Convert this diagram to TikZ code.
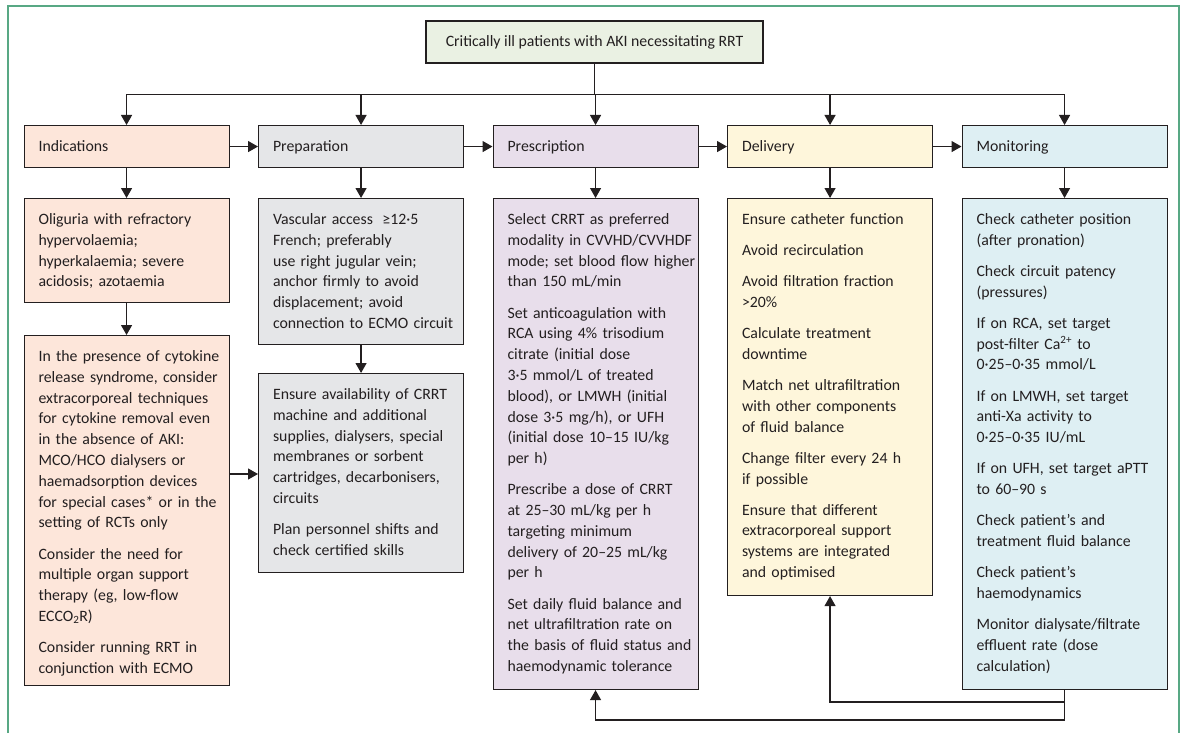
\documentclass[tikz,border=0pt]{standalone}
\usepackage{fontspec}
\setmainfont{Carlito}
\usetikzlibrary{arrows.meta}
\definecolor{cadre}{RGB}{88,168,132}
\definecolor{trait}{RGB}{35,31,32}
\definecolor{vertp}{RGB}{234,241,227}
\definecolor{peche}{RGB}{253,230,218}
\definecolor{grisp}{RGB}{229,230,232}
\definecolor{lilas}{RGB}{232,222,235}
\definecolor{creme}{RGB}{254,246,219}
\definecolor{bleup}{RGB}{222,239,243}
\begin{document}
\begin{tikzpicture}[x=1pt, y=-1pt,
                  every node/.style={font=\fontsize{15.8}{20.8}\selectfont, text=trait},
                  fleche/.style={-{Triangle[length=10pt,width=11pt]}, line width=1.2pt, draw=trait},
                  etape/.style={draw=trait, line width=1.1pt, anchor=north west, text width=190pt,
                                inner xsep=7.5pt, inner ysep=0pt, minimum height=42pt,
                                text height=12pt, text depth=3pt, align=left,
                                execute at begin node={\leftskip=7pt}},
                  bloc/.style={draw=trait, line width=1.1pt, anchor=north west, text width=190pt,
                               inner xsep=7.5pt, inner ysep=0pt, text height=26pt, align=left,
                               execute at begin node={\leftskip=7pt\rightskip=-9pt plus 1fil}}]
\useasboundingbox (0,0) rectangle (1182,733);
\draw[cadre, line width=1.5pt] (8,733) -- (8,6) -- (1179,6) -- (1179,733);
\node[draw=trait, line width=1.1pt, fill=vertp, minimum width=337pt, minimum height=42pt,
      inner sep=0pt, text height=12pt, text depth=3pt] (patients) at (594.5,42)
  {Critically ill patients with AKI necessitating RRT};
\foreach \i/\nom/\coul in {0/Indications/peche, 1/Preparation/grisp, 2/Prescription/lilas,
                           3/Delivery/creme, 4/Monitoring/bleup}
  \node[etape, fill=\coul] (e\i) at (23.5+234.5*\i, 125) {\nom};
% colonne 1
\node[bloc, fill=peche, text depth=78pt] (ind1) at (23.5,198)
  {Oliguria with refractory\\ hypervolaemia;\\ hyperkalaemia; severe\\ acidosis; azotaemia};
\node[bloc, fill=peche, text depth=324pt] (ind2) at (23.5,335)
  {In the presence of cytokine\\ release syndrome, consider\\ extracorporeal techniques\\
   for cytokine removal even\\ in the absence of AKI:\\ MCO/HCO dialysers or\\
   haemadsorption devices\\ for special cases* or in the\\ setting of RCTs only\\[10.3pt]
   Consider the need for\\ multiple organ support\\ therapy (eg, low-flow\\
   ECCO\textsubscript{2}R)\\[10.3pt]
   Consider running RRT in\\ conjunction with ECMO};
% colonne 2
\node[bloc, fill=grisp, text depth=120pt] (prep1) at (258,198)
  {Vascular access\hspace{0.6em}≥12·5\\ French; preferably\\ use right jugular vein;\\
   anchor firmly to avoid\\ displacement; avoid\\ connection to ECMO circuit};
\node[bloc, fill=grisp, text depth=173pt] (prep2) at (258,373)
  {Ensure availability of CRRT\\ machine and additional\\ supplies, dialysers, special\\
   membranes or sorbent\\ cartridges, decarbonisers,\\ circuits\\[10.3pt]
   Plan personnel shifts and\\ check certified skills};
% colonne 3
\node[bloc, fill=lilas, text depth=465pt] (presc) at (492.5,198)
  {Select CRRT as preferred\\ modality in CVVHD/CVVHDF\\ mode; set blood flow higher\\
   than 150 mL/min\\[10.3pt]
   Set anticoagulation with\\ RCA using 4\% trisodium\\ citrate (initial dose\\
   3·5 mmol/L of treated\\ blood), or LMWH (initial\\ dose 3·5 mg/h), or UFH\\
   (initial dose 10–15 IU/kg\\ per h)\\[10.3pt]
   Prescribe a dose of CRRT\\ at 25–30 mL/kg per h\\ targeting minimum\\
   delivery of 20–25 mL/kg\\ per h\\[10.3pt]
   Set daily fluid balance and\\ net ultrafiltration rate on\\ the basis of fluid status and\\
   haemodynamic tolerance};
% colonne 4
\node[bloc, fill=creme, text depth=371pt] (deliv) at (727,198)
  {Ensure catheter function\\[10.3pt]
   Avoid recirculation\\[10.3pt]
   Avoid filtration fraction\\ >20\%\\[10.3pt]
   Calculate treatment\\ downtime\\[10.3pt]
   Match net ultrafiltration\\ with other components\\ of fluid balance\\[10.3pt]
   Change filter every 24 h\\ if possible\\[10.3pt]
   Ensure that different\\ extracorporeal support\\ systems are integrated\\ and optimised};
% colonne 5
\node[bloc, fill=bleup, text depth=465pt] (monit) at (961.5,198)
  {Check catheter position\\ (after pronation)\\[10.3pt]
   Check circuit patency\\ (pressures)\\[10.3pt]
   If on RCA, set target\\ post-filter Ca\textsuperscript{2+} to\\ 0·25–0·35 mmol/L\\[10.3pt]
   If on LMWH, set target\\ anti-Xa activity to\\ 0·25–0·35 IU/mL\\[10.3pt]
   If on UFH, set target aPTT\\ to 60–90 s\\[10.3pt]
   Check patient’s and\\ treatment fluid balance\\[10.3pt]
   Check patient’s\\ haemodynamics\\[10.3pt]
   Monitor dialysate/filtrate\\ effluent rate (dose\\ calculation)};
% fleches
\foreach \i in {0,1,...,4}
  \draw[fleche] (patients.south) -- ++(0,31) -| (e\i.north);
\foreach \i [count=\j] in {0,1,2,3}
  \draw[fleche] (e\i.east) -- (e\j.west);
\foreach \a/\b in {e0/ind1, ind1/ind2, e1/prep1, prep1/prep2, e2/presc, e3/deliv, e4/monit}
  \draw[fleche] (\a.south) -- (\b.north);
\draw[fleche] (ind2.east |- 0,474) -- (prep2.west |- 0,474);
\draw[fleche] (monit.south) -- (monit.south |- 0,720) -| (presc.south);
\draw[fleche] (monit.south |- 0,702) -| (deliv.south);
\end{tikzpicture}
\end{document}
